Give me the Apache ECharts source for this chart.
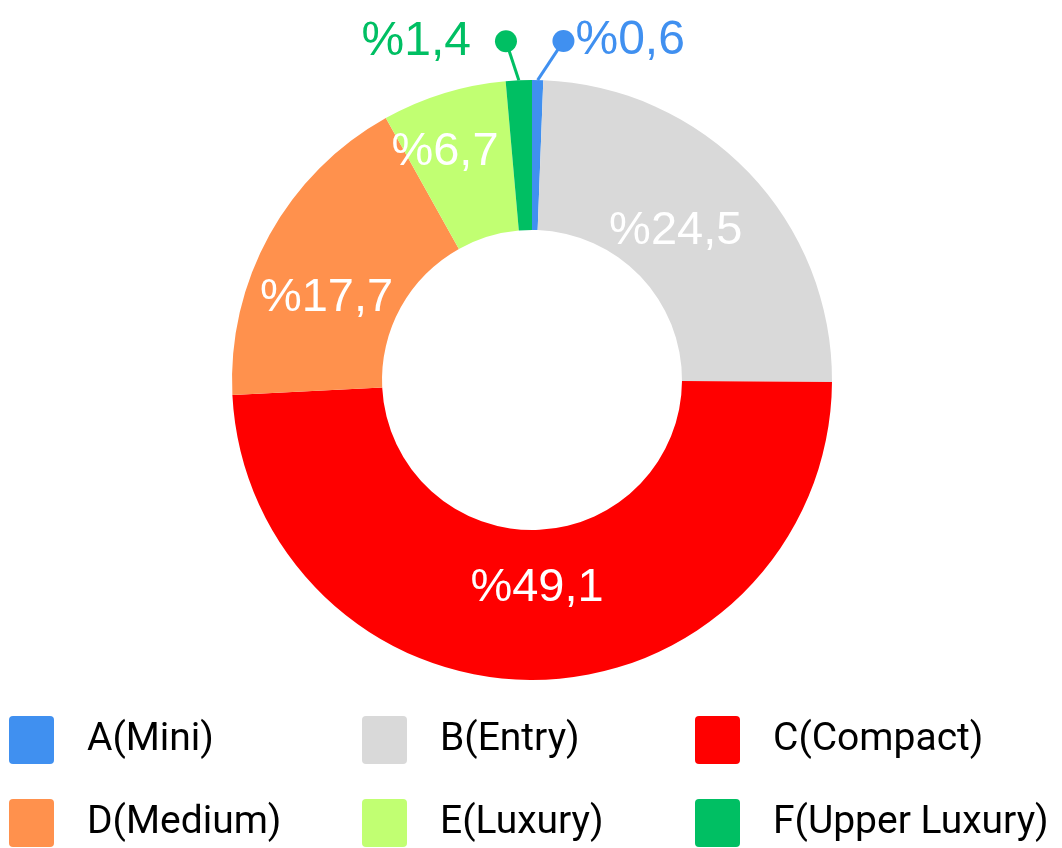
<!DOCTYPE html>
<html>
<head>
<meta charset="utf-8">
<style>
  html, body { margin: 0; padding: 0; background: #ffffff; }
  #chart { width: 1062px; height: 848px; }
</style>
<script src="https://cdn.jsdelivr.net/npm/echarts@6/dist/echarts.min.js"></script>
</head>
<body>
<div id="chart"></div>
<script>
// segment names, shares (%) and colours
var names = ['A(Mini)', 'B(Entry)', 'C(Compact)', 'D(Medium)', 'E(Luxury)', 'F(Upper Luxury)'];
var shares = [0.6, 24.5, 49.1, 17.7, 6.7, 1.4];
var colors = ['#4090f0', '#d9d9d9', '#ff0000', '#ff914d', '#c1ff72', '#00bf63'];
// small slices get their label outside
var outside = ['A(Mini)', 'F(Upper Luxury)'];
// small nudges so the labels sit where the original has them
var nudge = [[14, 3], [-21, 9], [0, -20], [-6, 29], [-20, -10], [0, 3]];

var myChart = echarts.init(document.getElementById('chart'));

function pct(v) {
    return '%' + String(v).replace('.', ',');
}

var pieData = names.map(function (n, i) {
    var item = { name: n, value: shares[i], itemStyle: { color: colors[i] } };
    if (outside.indexOf(n) >= 0) {
        var rightSide = i === 0;
        item.label = {
            position: 'outside',
            formatter: rightSide ? '{d|}{t|' + pct(shares[i]) + '}' : '{t|' + pct(shares[i]) + '}{d|}',
            rich: {
                d: { width: 22, height: 22, borderRadius: 11, backgroundColor: colors[i] },
                t: { color: colors[i], fontSize: 48, fontFamily: 'Liberation Sans', padding: rightSide ? [0, 0, 0, 1] : [0, 24, 0, 0] }
            }
        };
        item.labelLine = { show: true, lineStyle: { color: colors[i], width: 3 } };
    }
    return item;
});

var icon = 'path://M4,0 H41 Q45,0 45,4 V44 Q45,48 41,48 H4 Q0,48 0,44 V4 Q0,0 4,0 Z';
function legendCol(left, items) {
    return {
        orient: 'vertical',
        left: left,
        top: 716,
        padding: 0,
        itemWidth: 45,
        itemHeight: 48,
        itemGap: 35,
        icon: icon,
        selectedMode: false,
        data: items,
        textStyle: { fontSize: 39, color: '#000', fontFamily: 'Roboto', padding: [0, 0, 0, 28] }
    };
}

var option = {
    animation: false,
    legend: [
        legendCol(9, [names[0], names[3]]),
        legendCol(362, [names[1], names[4]]),
        legendCol(695, [names[2], names[5]])
    ],
    series: [{
        type: 'pie',
        center: [532, 380],
        radius: [150, 300],
        startAngle: 90,
        avoidLabelOverlap: false,
        label: {
            show: true,
            position: 'inside',
            color: '#fff',
            fontSize: 47,
            fontFamily: 'Liberation Sans',
            distanceToLabelLine: 0,
            formatter: function (p) { return pct(p.value); }
        },
        labelLine: { show: false, length: 42, length2: 0 },
        labelLayout: function (p) {
            var d = nudge[p.dataIndex];
            var r = p.labelRect;
            var cy = r.y + r.height / 2 + d[1];
            if (p.dataIndex === 0) {
                // line ends in the centre of the dot on the left of the label
                var end = [r.x + d[0] + 11, cy];
                return { dx: d[0], dy: d[1], labelLinePoints: [p.labelLinePoints[0], end, end] };
            }
            if (p.dataIndex === 5) {
                var e5 = [r.x + r.width + d[0] - 11, cy];
                return { dx: d[0], dy: d[1], labelLinePoints: [p.labelLinePoints[0], e5, e5] };
            }
            return { dx: d[0], dy: d[1] };
        },
        data: pieData
    }]
};
myChart.setOption(option);
</script>
</body>
</html>
